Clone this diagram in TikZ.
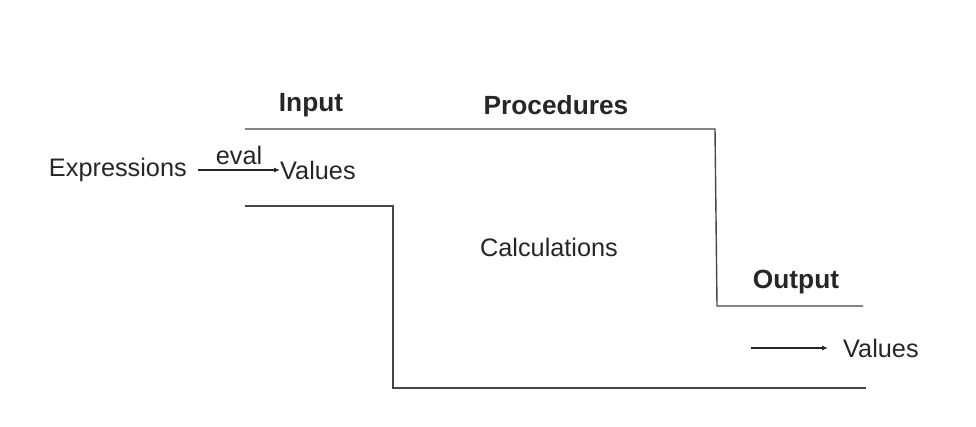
\documentclass[tikz,border=0pt]{standalone}
\usepackage{fontspec}
\setmainfont{Liberation Sans}
\usetikzlibrary{arrows.meta}
\begin{document}
\begin{tikzpicture}[x=1pt,y=-1pt,
  lbl/.style={inner sep=0pt,font=\fontsize{25.3}{29}\selectfont,text=black!85},
  hd/.style={lbl,font=\fontsize{26.3}{30}\selectfont\bfseries},
  wall/.style={draw=black!72,line width=1.4pt},
  arr/.style={draw=black!85,line width=1.1pt,-{Latex[length=6pt,width=5pt]}}]
\useasboundingbox (0,0) rectangle (976,426);
% boundary lines
\coordinate (t1) at (245,129);
\coordinate (t2) at (715,129);
\coordinate (t3) at (717,306);
\coordinate (t4) at (863,306);
\coordinate (b1) at (245,206);
\coordinate (b2) at (393,206);
\coordinate (b3) at (393,388);
\coordinate (b4) at (866,388);
\draw[wall] (t1) -- (t2) -- (t3) -- (t4);
\draw[wall] (b1) -- (b2) -- (b3) -- (b4);
% labels
\node[hd] (input) at (311,105) {Input};
\node[hd] (proc) at (556,105) {Procedures};
\node[hd] (output) at (796,282) {Output};
\node[lbl] (calc) at (549,247) {Calculations};
\node[lbl,anchor=east] (expr) at (187,170) {Expressions};
\node[lbl,anchor=west] (val1) at (280,170) {Values};
\node[lbl,anchor=west] (val2) at (843,348) {Values};
\coordinate (os) at (751,348);
\draw[arr] ([xshift=11pt]expr.east) -- node[lbl,above=5pt] (eval) {eval} (val1.west);
\draw[arr] (os) -- ([xshift=-15pt]val2.west);
\end{tikzpicture}
\end{document}
